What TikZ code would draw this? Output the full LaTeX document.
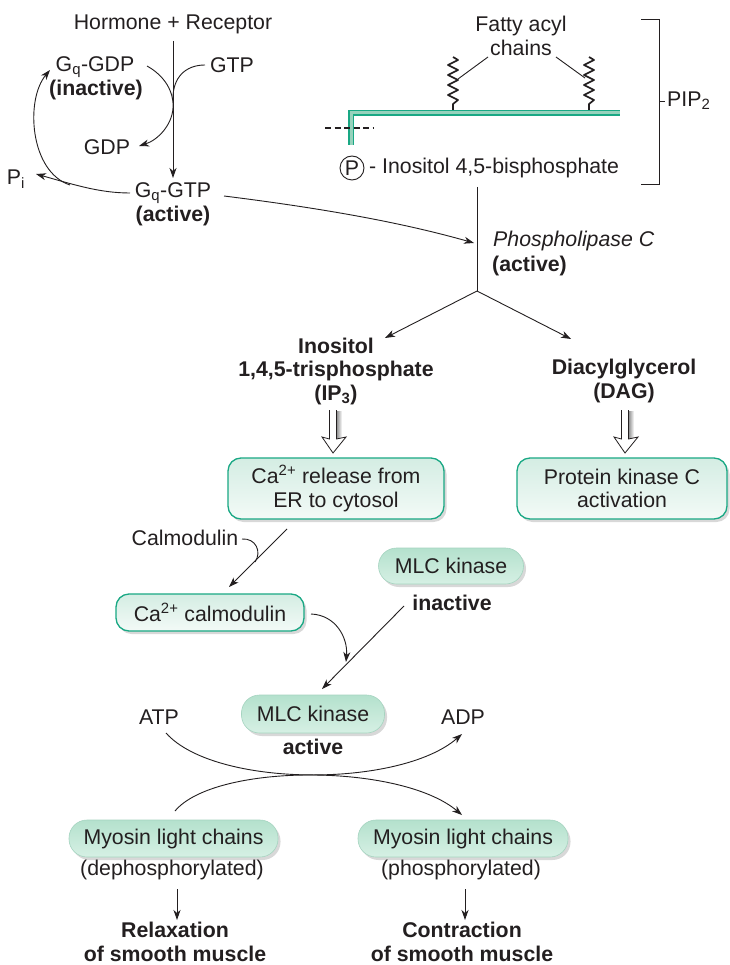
\documentclass[tikz,border=0pt]{standalone}
\usepackage{fontspec}
\setmainfont{Liberation Sans}
\usetikzlibrary{arrows.meta,shadows}
\definecolor{tealc}{RGB}{25,168,132}
\definecolor{boxtop}{RGB}{212,237,227}
\definecolor{boxbot}{RGB}{243,250,247}
\definecolor{pilltop}{RGB}{180,225,205}
\definecolor{pillbot}{RGB}{214,240,228}
\definecolor{pilledge}{RGB}{165,212,192}
\definecolor{memfill}{RGB}{150,210,188}
\definecolor{txt}{RGB}{35,31,32}
\newcommand\fsz{\fontsize{21.3}{23.5}\selectfont}
\newcommand\hollowarr[1]{%
 \shade[left color=black!45,right color=white] (#1+3.5,-411) rectangle (#1+9,-440);
 \filldraw[fill=white, draw=txt, line width=0.8pt] (#1-3.5,-410) -- (#1-3.5,-439) -- (#1-11,-437) -- (#1,-453) -- (#1+13,-437) -- (#1+3.5,-439) -- (#1+3.5,-410);
}
\newcommand\fattychain[1]{%
 \draw[line width=1.7pt, draw=txt, line join=round] (#1,-112) -- (#1,-104) -- (#1+5,-100) -- (#1-5,-95) -- (#1+5,-90) -- (#1-5,-85) -- (#1+5,-80) -- (#1-5,-75) -- (#1+5,-70) -- (#1-5,-65) -- (#1+5,-60) -- (#1,-57);
}
\begin{document}
\begin{tikzpicture}[x=1pt,y=1pt,
  every node/.style={font=\fsz, inner sep=0pt, text=txt},
  con/.style={line width=0.9pt, draw=txt},
  arr/.style={con, -{Stealth[length=10pt,width=7pt,inset=3pt]}},
  bl/.style={font=\fsz\bfseries},
  sh/.style={drop shadow={shadow xshift=2.5pt, shadow yshift=-3pt, opacity=.3, fill=black!50}},
  rbox/.style={draw=tealc, line width=1.3pt, rounded corners=13pt, top color=boxtop, bottom color=boxbot, align=center, sh},
  pill/.style={draw=pilledge, line width=0.6pt, rounded corners=18pt, top color=pilltop, bottom color=pillbot, sh},
]
\useasboundingbox (0,0) rectangle (729,-965);
\fill[white] (0,0) rectangle (729,-965);

% ---------- top left: G protein cycle ----------
\node (hr) at (173,-24) {Hormone + Receptor};
\node (gqgdp) at (95,-67) {G\textsubscript{q}-GDP};
\node[bl] (inact) at (96,-90) {(inactive)};
\node (gtp) at (232,-65) {GTP};
\node (gdp) at (107,-147) {GDP};
\node (pi) at (16,-179) {P\textsubscript{i}};
\node (gqgtp) at (173,-193) {G\textsubscript{q}-GTP};
\node[bl] (act1) at (173,-216) {(active)};

\coordinate (h1) at (173,-41);
\coordinate (h2) at (173,-178);
\draw[arr] (h1) -- (h2);
\coordinate (gtps) at (205,-65);
\coordinate (gtpj) at (173,-98);
\draw[con] (gtps) .. controls (185,-65) and (173,-78) .. (gtpj);
\coordinate (gdps) at (147,-66);
\coordinate (gdpm) at (173,-108);
\coordinate (gdpt) at (139,-146);
\draw[arr] (gdps) .. controls (165,-76) and (174,-92) .. (gdpm) .. controls (172,-125) and (158,-140) .. (gdpt);
\coordinate (gqs) at (130,-193);
\coordinate (pit) at (36,-174);
\draw[arr] (gqs) .. controls (100,-193) and (75,-185) .. (pit);
\coordinate (arcs) at (70,-185);
\coordinate (arct) at (50,-70);
\draw[arr] (arcs) .. controls (30,-172) and (25,-100) .. (arct);

% Gq-GTP -> PLC
\coordinate (gqe) at (224,-196);
\coordinate (plct) at (474,-243);
\draw[arr] (gqe) .. controls (320,-208) and (400,-222) .. (plct);

% ---------- top right: PIP2 ----------
\node[align=center] (fatty) at (521,-36) {Fatty acyl\\chains};
\fattychain{453}
\fattychain{589}
\coordinate (fl1) at (488,-57); \coordinate (fl2) at (458,-79);
\coordinate (fr1) at (556,-57); \coordinate (fr2) at (585,-78);
\draw[con] (fl1) -- (fl2);
\draw[con] (fr1) -- (fr2);
\draw[draw=tealc, line width=1.4pt, double=memfill, double distance=3pt] (351,-145) -- (351,-113) -- (620,-113);
\draw[txt, line width=1.8pt, dash pattern=on 6pt off 3.5pt] (325,-128) -- (374,-128);
\node[circle, draw=txt, line width=0.9pt, minimum size=24pt] (pc) at (352,-168) {P};
\node[anchor=west] (inos) at (369,-168) {- Inositol 4,5-bisphosphate};
\draw[con] (641,-19) -- (659,-19) -- (659,-184) -- (641,-184);
\coordinate (pipt) at (665,-101);
\draw[con] (659,-101) -- (pipt);
\node[anchor=west] (pip) at (667,-101) {PIP\textsubscript{2}};

% ---------- Phospholipase C ----------
\node[anchor=west] (plc) at (493,-241) {\itshape Phospholipase C};
\node[bl,anchor=west] (act2) at (492,-266) {(active)};
\coordinate (p1) at (477,-187);
\coordinate (br) at (477,-291);
\draw[con] (p1) -- (br);
\node[bl,align=center] (ip3) at (336,-371) {Inositol\\1,4,5-trisphosphate\\(IP\textsubscript{3})};
\node[bl,align=center] (dag) at (624,-381) {Diacylglycerol\\(DAG)};
\coordinate (ipt) at (385,-338);
\coordinate (dagt) at (571,-339);
\draw[arr] (br) -- (ipt);
\draw[arr] (br) -- (dagt);

\hollowarr{333}
\hollowarr{625}

% ---------- boxes ----------
\node[rbox, minimum width=216pt, minimum height=61pt] (ca) at (336,-488.5) {Ca\textsuperscript{2+} release from\\ER to cytosol};
\node[rbox, minimum width=210pt, minimum height=61pt] (pkc) at (622,-488.5) {Protein kinase C\\activation};
\node (calm) at (185,-538) {Calmodulin};
\node[rbox, minimum width=188pt, minimum height=37pt] (cacal) at (210,-612.5) {Ca\textsuperscript{2+} calmodulin};
\node[pill, minimum width=145pt, minimum height=36pt] (mlci) at (451,-566) {MLC kinase};
\node[bl] (inactb) at (452,-603) {inactive};

\coordinate (c1) at (287,-529);
\coordinate (c2) at (229,-587);
\draw[arr] (c1) -- (c2);
\coordinate (cm1) at (242,-539);
\coordinate (cm2) at (255,-562);
\draw[con] (cm1) .. controls (256,-538) and (262,-552) .. (cm2);
\coordinate (cc1) at (311,-614);
\coordinate (cc2) at (346,-662);
\draw[arr] (cc1) .. controls (336,-615) and (348,-638) .. (cc2);
\coordinate (i1) at (404,-606);
\coordinate (i2) at (322,-689);
\draw[arr] (i1) -- (i2);

% ---------- MLC kinase active ----------
\node[pill, minimum width=143pt, minimum height=38pt] (mlca) at (313,-714) {MLC kinase};
\node[bl] (actb) at (313,-747) {active};
\node (atp) at (159,-717) {ATP};
\node (adp) at (463,-717) {ADP};
\coordinate (a1) at (166,-733);
\coordinate (a2) at (462,-734);
\draw[arr] (a1) .. controls (215,-788) and (400,-788) .. (a2);
\coordinate (m1) at (175,-811);
\coordinate (m2) at (462,-815);
\draw[arr] (m1) .. controls (215,-763) and (400,-763) .. (m2);

% ---------- myosin ----------
\node[pill, minimum width=209pt, minimum height=37pt] (my1) at (173.5,-838.5) {Myosin light chains};
\node (dep) at (172,-870) {(dephosphorylated)};
\node[pill, minimum width=210pt, minimum height=37pt] (my2) at (463,-838.5) {Myosin light chains};
\node (phos) at (461,-870) {(phosphorylated)};
\node[bl,align=center] (relax) at (175,-942) {Relaxation\\of smooth muscle};
\node[bl,align=center] (contr) at (462,-942) {Contraction\\of smooth muscle};
\coordinate (d1) at (177,-889); \coordinate (d2) at (177,-920);
\coordinate (e1) at (465,-889); \coordinate (e2) at (465,-920);
\draw[arr] (d1) -- (d2);
\draw[arr] (e1) -- (e2);
\end{tikzpicture}
\end{document}
